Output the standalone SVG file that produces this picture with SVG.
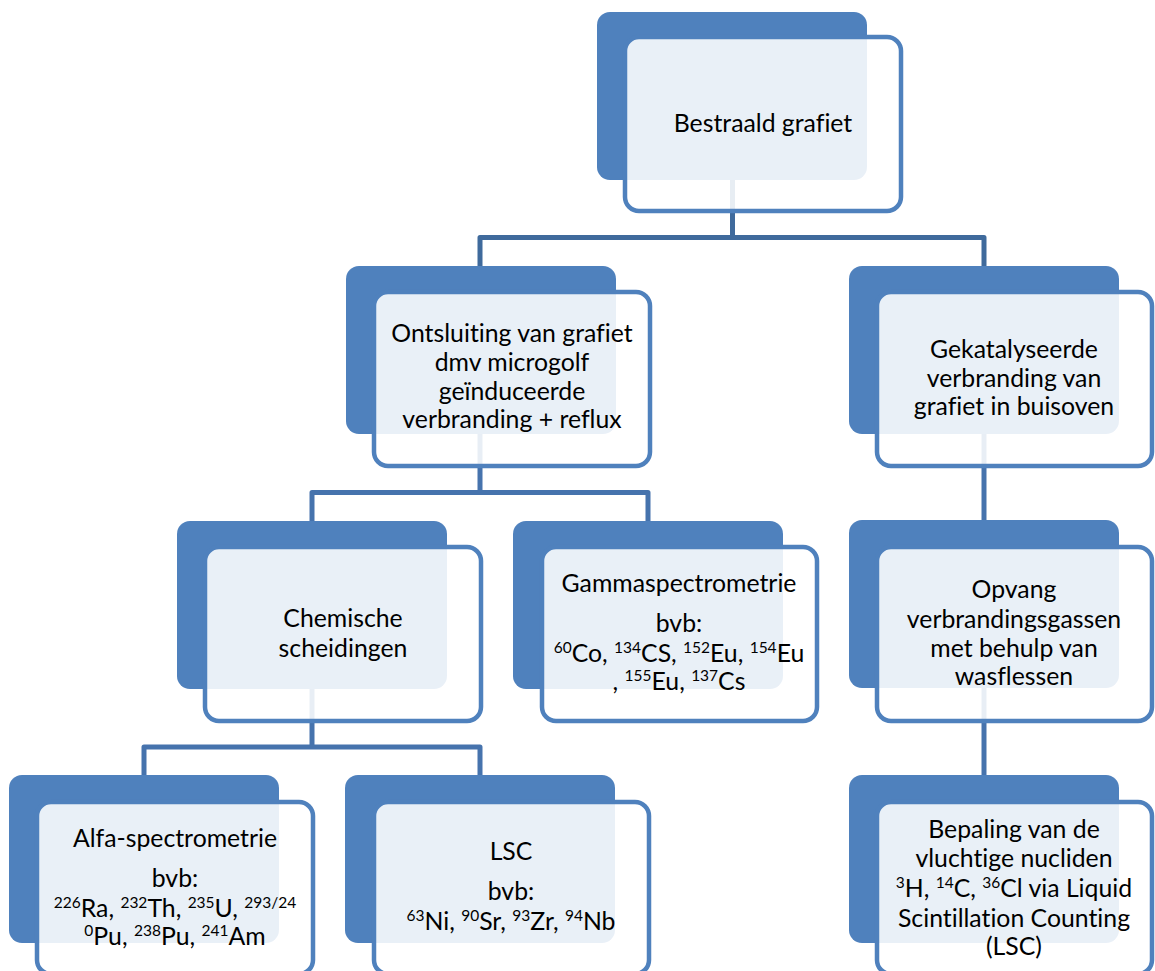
<svg xmlns="http://www.w3.org/2000/svg" width="1155" height="971" viewBox="0 0 1155 971">
<style>
.bg{fill:#ffffff}
.back{fill:#4f81bd}
.front{fill:#ffffff;fill-opacity:0.88;stroke:#4f81bd;stroke-width:4.5}
.c1{fill:none;stroke:#3f6a9c;stroke-width:5;stroke-linejoin:round}
.c2{fill:none;stroke:#4673ad;stroke-width:5;stroke-linejoin:round}
text{font-family:Lato,"Liberation Sans",sans-serif;font-size:24.8px;fill:#000000;text-anchor:middle;font-variant-ligatures:none;font-feature-settings:"liga" 0}
.s{font-size:15.5px}
</style>
<rect class="bg" x="0" y="0" width="1155" height="971"/>
<g id="connectors">
<path class="c1" d="M732.5 180 V237.5 M480 266 V237.5 H984 V266"/>
<path class="c2" d="M480 433 V492.5 M312 521 V492.5 H648 V521"/>
<path class="c2" d="M984 434 V520"/>
<path class="c2" d="M312 689 V747 M144 775 V747 H480 V775"/>
<path class="c2" d="M984 688 V775"/>
</g>
<g id="node-bestraald">
<rect class="back" x="597" y="12" width="270" height="168" rx="13"/>
<rect class="front" x="625" y="37" width="276" height="174" rx="14"/>
<text x="763" y="132">Bestraald grafiet</text>
</g>
<g id="node-ontsluiting">
<rect class="back" x="346" y="266" width="270" height="168" rx="13"/>
<rect class="front" x="374" y="292" width="276" height="174" rx="14"/>
<text x="512" y="342">Ontsluiting van grafiet</text>
<text x="512" y="371">dmv microgolf</text>
<text x="512" y="400">geïnduceerde</text>
<text x="512" y="428">verbranding + reflux</text>
</g>
<g id="node-gekatalyseerde">
<rect class="back" x="849" y="266" width="270" height="168" rx="13"/>
<rect class="front" x="877" y="292" width="275" height="174" rx="14"/>
<text x="1014" y="358">Gekatalyseerde</text>
<text x="1014" y="387">verbranding van</text>
<text x="1014" y="415">grafiet in buisoven</text>
</g>
<g id="node-chemische">
<rect class="back" x="177" y="521" width="270" height="168" rx="13"/>
<rect class="front" x="205" y="547" width="276" height="174" rx="14"/>
<text x="343" y="627">Chemische</text>
<text x="343" y="657">scheidingen</text>
</g>
<g id="node-gamma">
<rect class="back" x="513" y="521" width="270" height="168" rx="13"/>
<rect class="front" x="542" y="547" width="275" height="174" rx="14"/>
<text x="679" y="592">Gammaspectrometrie</text>
<text x="679" y="632">bvb:</text>
<text x="679" y="662"><tspan class="s" dy="-9">60</tspan><tspan dy="9">Co, </tspan><tspan class="s" dy="-9">134</tspan><tspan dy="9">CS, </tspan><tspan class="s" dy="-9">152</tspan><tspan dy="9">Eu, </tspan><tspan class="s" dy="-9">154</tspan><tspan dy="9">Eu</tspan></text>
<text x="679" y="690">, <tspan class="s" dy="-9">155</tspan><tspan dy="9">Eu, </tspan><tspan class="s" dy="-9">137</tspan><tspan dy="9">Cs</tspan></text>
</g>
<g id="node-opvang">
<rect class="back" x="849" y="520" width="270" height="168" rx="13"/>
<rect class="front" x="877" y="547" width="275" height="174" rx="14"/>
<text x="1014" y="598">Opvang</text>
<text x="1014" y="628">verbrandingsgassen</text>
<text x="1014" y="657">met behulp van</text>
<text x="1014" y="685">wasflessen</text>
</g>
<g id="node-alfa">
<rect class="back" x="9" y="775" width="270" height="168" rx="13"/>
<rect class="front" x="37" y="802" width="276" height="172" rx="14"/>
<text x="175" y="847">Alfa-spectrometrie</text>
<text x="175" y="887">bvb:</text>
<text x="175" y="917"><tspan class="s" dy="-9">226</tspan><tspan dy="9">Ra, </tspan><tspan class="s" dy="-9">232</tspan><tspan dy="9">Th, </tspan><tspan class="s" dy="-9">235</tspan><tspan dy="9">U, </tspan><tspan class="s" dy="-9">293/24</tspan></text>
<text x="175" y="945"><tspan class="s" dy="-9">0</tspan><tspan dy="9">Pu, </tspan><tspan class="s" dy="-9">238</tspan><tspan dy="9">Pu, </tspan><tspan class="s" dy="-9">241</tspan><tspan dy="9">Am</tspan></text>
</g>
<g id="node-lsc">
<rect class="back" x="345" y="775" width="270" height="168" rx="13"/>
<rect class="front" x="374" y="802" width="275" height="172" rx="14"/>
<text x="511" y="860">LSC</text>
<text x="511" y="900">bvb:</text>
<text x="511" y="930"><tspan class="s" dy="-9">63</tspan><tspan dy="9">Ni, </tspan><tspan class="s" dy="-9">90</tspan><tspan dy="9">Sr, </tspan><tspan class="s" dy="-9">93</tspan><tspan dy="9">Zr, </tspan><tspan class="s" dy="-9">94</tspan><tspan dy="9">Nb</tspan></text>
</g>
<g id="node-bepaling">
<rect class="back" x="849" y="775" width="270" height="168" rx="13"/>
<rect class="front" x="877" y="802" width="275" height="172" rx="14"/>
<text x="1014" y="838">Bepaling van de</text>
<text x="1014" y="867">vluchtige nucliden</text>
<text x="1014" y="897"><tspan class="s" dy="-9">3</tspan><tspan dy="9">H, </tspan><tspan class="s" dy="-9">14</tspan><tspan dy="9">C, </tspan><tspan class="s" dy="-9">36</tspan><tspan dy="9">Cl via Liquid</tspan></text>
<text x="1014" y="927">Scintillation Counting</text>
<text x="1014" y="955">(LSC)</text>
</g>
</svg>
